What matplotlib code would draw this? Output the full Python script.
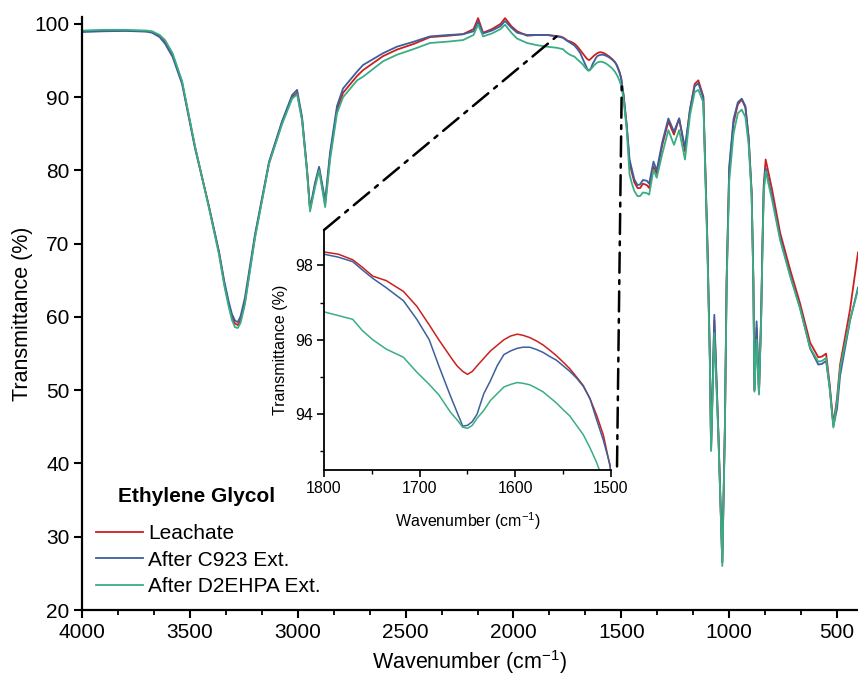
import matplotlib
matplotlib.use("Agg")
import matplotlib.pyplot as plt
from matplotlib.ticker import MultipleLocator
from matplotlib.patches import ConnectionPatch

plt.rcParams['font.family'] = ['Liberation Sans', 'DejaVu Sans']
plt.rcParams['mathtext.fontset'] = 'custom'
plt.rcParams['mathtext.rm'] = 'Liberation Sans'
plt.rcParams['mathtext.default'] = 'regular'

# ---------------- data ----------------
wavenumber = [
    # 4000-3245
    4000, 3900, 3800, 3700, 3675, 3640, 3615, 3580, 3536, 3476, 3411, 3365, 3340, 3320, 3305, 3291,
    3278, 3265, 3245,
    # 3198-1844
    3198, 3133, 3073, 3026, 3003, 2980, 2957, 2943, 2920, 2901, 2885, 2873, 2850, 2818, 2790, 2725,
    2697, 2605, 2540, 2460, 2387, 2300, 2234, 2185, 2164, 2141, 2100, 2060, 2039, 2010, 1983, 1937,
    1890, 1844,
    # 1800-1501
    1800, 1785, 1770, 1760, 1749, 1735, 1717, 1703, 1690, 1680, 1668, 1661, 1655, 1650, 1645, 1640,
    1633, 1626, 1619, 1612, 1605, 1598, 1592, 1585, 1578, 1571, 1564, 1557, 1550, 1543, 1536, 1529,
    1522, 1515, 1508, 1501,
    # 1490-403
    1490, 1475, 1462, 1452, 1440, 1425, 1413, 1400, 1382, 1371, 1351, 1336, 1310, 1282, 1256, 1232,
    1205, 1182, 1160, 1143, 1120, 1101, 1090, 1084, 1069, 1050, 1032, 1020, 1012, 1000, 980, 960,
    942, 925, 910, 896, 888, 883, 873, 862, 852, 846, 840, 831, 800, 764, 718, 672, 625, 587, 570,
    551, 535, 517, 500, 486, 440, 403]

leachate = [
    99.0, 99.1, 99.1, 99.0, 98.9, 98.4, 97.6, 95.8, 92.0, 83.2, 75.0, 68.8, 64.5, 61.8, 60.0, 59.1,
    58.9, 59.6, 62.0,
    71.0, 81.0, 86.5, 90.0, 90.6, 87.0, 80.0, 74.7, 78.0, 80.3, 77.5, 75.4, 82.0, 88.3, 90.6, 92.9,
    93.7, 95.6, 96.5, 97.3, 98.2, 98.4, 98.6, 99.3, 100.8, 98.8, 99.3, 100.0, 100.8, 99.7, 99.0, 98.4,
    98.5, 98.5,
    98.36, 98.3, 98.15, 97.95, 97.71, 97.59, 97.3, 96.9, 96.4, 96.0, 95.55, 95.3, 95.15, 95.07, 95.15, 95.3,
    95.5, 95.7, 95.85, 96.0, 96.1, 96.15, 96.12, 96.06, 95.97, 95.86, 95.72, 95.57, 95.4, 95.22, 95.0, 94.77,
    94.42, 93.97, 93.44, 92.6,
    90.3, 86.0, 81.0, 79.8, 78.4, 77.6, 77.6, 78.2, 78.0, 77.6, 80.5, 79.6, 83.5, 86.7, 84.9, 87.1,
    82.6, 88.3, 91.8, 92.3, 90.1, 70.0, 55.0, 42.0, 59.5, 44.0, 26.5, 45.0, 65.0, 80.0, 86.5, 89.0,
    89.7, 88.6, 84.5, 77.0, 65.0, 50.0, 58.5, 49.6, 60.0, 70.0, 78.0, 81.5, 77.2, 71.5, 66.5, 61.9, 56.5, 54.5, 54.6,
    55.0, 51.0, 45.3, 49.0, 53.5, 61.0, 68.8]

after_c923 = [
    98.9, 99.0, 99.05, 98.95, 98.8, 98.2, 97.3, 95.5, 91.8, 83.0, 75.0, 68.9, 64.8, 62.1, 60.4, 59.5,
    59.3, 60.1, 62.6,
    71.3, 81.2, 86.7, 90.3, 91.0, 87.3, 80.2, 74.8, 78.3, 80.5, 77.9, 75.9, 82.5, 88.8, 91.2, 93.5,
    94.4, 96.0, 96.9, 97.6, 98.3, 98.5, 98.6, 99.0, 100.3, 98.7, 99.1, 99.7, 100.4, 99.5, 98.8, 98.5,
    98.5, 98.5,
    98.3, 98.22, 98.1, 97.88, 97.65, 97.4, 97.05, 96.55, 96.0, 95.3, 94.5, 94.06, 93.68, 93.7, 93.8, 94.0,
    94.55, 94.9, 95.3, 95.6, 95.7, 95.77, 95.8, 95.8, 95.74, 95.66, 95.55, 95.45, 95.3, 95.15, 94.97, 94.75,
    94.42, 93.85, 93.3, 92.64,
    90.4, 86.2, 81.5, 80.3, 78.8, 78.0, 78.1, 78.7, 78.6, 78.2, 81.2, 80.0, 83.9, 87.1, 85.3, 87.1,
    83.1, 88.3, 91.5, 91.9, 89.9, 70.0, 55.0, 42.0, 60.3, 44.0, 26.5, 45.0, 65.0, 80.5, 87.0, 89.3,
    89.8, 88.8, 84.5, 77.0, 65.0, 50.0, 59.4, 49.6, 60.0, 69.5, 77.5, 80.3, 76.2, 70.8, 65.8, 61.3, 55.7, 53.5, 53.6,
    54.0, 50.5, 45.1, 47.5, 52.0, 59.5, 64.0]

after_d2ehpa = [
    99.1, 99.2, 99.2, 99.1, 99.0, 98.5, 97.8, 96.0, 92.2, 83.3, 74.8, 68.5, 64.2, 61.4, 59.6, 58.6,
    58.5, 59.2, 61.7,
    70.8, 80.9, 86.3, 89.8, 90.4, 86.8, 79.8, 74.4, 77.7, 80.0, 77.2, 75.0, 81.5, 87.8, 90.0, 92.3,
    92.8, 94.9, 95.8, 96.6, 97.4, 97.6, 97.8, 98.5, 99.9, 98.3, 98.7, 99.3, 99.9, 98.8, 98.0, 97.4,
    97.1, 96.9,
    96.75, 96.65, 96.55, 96.25, 96.0, 95.75, 95.53, 95.13, 94.8, 94.52, 94.06, 93.85, 93.65, 93.62, 93.7, 93.89,
    94.1, 94.37, 94.55, 94.73, 94.8, 94.85, 94.83, 94.79, 94.7, 94.6, 94.45, 94.3, 94.12, 93.95, 93.7, 93.45,
    93.1, 92.7, 92.2, 91.6,
    89.8, 85.5, 79.5, 78.3, 77.2, 76.5, 76.5, 77.0, 76.9, 76.7, 80.1, 79.0, 82.3, 85.5, 83.5, 85.5,
    81.5, 87.5, 90.7, 91.0, 89.3, 69.0, 54.0, 41.7, 57.8, 43.5, 26.0, 44.5, 64.0, 78.5, 85.0, 87.8,
    88.3, 87.3, 83.5, 76.5, 64.5, 49.8, 56.9, 49.4, 59.5, 69.0, 77.0, 79.9, 75.8, 70.5, 65.6, 61.2, 55.8, 53.9, 54.0,
    54.4, 50.5, 44.9, 48.5, 53.0, 59.6, 63.7]

series_labels = ["Leachate", "After C923 Ext.", "After D2EHPA Ext."]
series_colors = ["#cc1f1f", "#3d5f9c", "#3aae82"]
legend_title = "Ethylene Glycol"

main_xticks = [4000, 3500, 3000, 2500, 2000, 1500, 1000, 500]
main_yticks = [20, 30, 40, 50, 60, 70, 80, 90, 100]
inset_xticks = [1800, 1700, 1600, 1500]
inset_yticks = [94, 96, 98]

# ---------------- figure ----------------
W, H = 858, 676
fig = plt.figure(figsize=(W / 100, H / 100), dpi=100)

def fx(px):
    return px / W

def fy(py):
    return 1 - py / H

ax = fig.add_axes([fx(82), fy(610), fx(858) - fx(82), fy(17) - fy(610)])
series = [leachate, after_c923, after_d2ehpa]
for vals, lab, col in zip(series, series_labels, series_colors):
    ax.plot(wavenumber, vals, color=col, lw=1.3, label=lab)

ax.set_xlim(4000, 403)
ax.set_ylim(20, 100.95)
ax.set_xticks(main_xticks)
ax.set_yticks(main_yticks)
ax.xaxis.set_minor_locator(MultipleLocator(500 / 3))
for s in ["top", "right"]:
    ax.spines[s].set_visible(False)
for s in ["left", "bottom"]:
    ax.spines[s].set_linewidth(1.6)
ax.tick_params(which="major", direction="out", length=6, width=1.5, labelsize=15, pad=3)
ax.tick_params(which="minor", direction="out", length=3.5, width=1.3)
ax.set_xlabel("Wavenumber (cm$^{-1}$)", fontsize=15.5, labelpad=5)
ax.set_ylabel("Transmittance (%)", fontsize=15.5, labelpad=1)

# legend
fig.text(fx(118), fy(497), legend_title, fontsize=15, fontweight="bold", ha="left", va="center")
leg = ax.legend(loc="upper left", bbox_to_anchor=(fx(96), fy(524)), bbox_transform=fig.transFigure,
                frameon=False, fontsize=15, handlelength=2.25, handletextpad=0.25,
                labelspacing=0.37, borderpad=0, borderaxespad=0)

# inset
ins = fig.add_axes([fx(324), fy(470), fx(611) - fx(324), fy(230) - fy(470)])
for vals, col in zip(series, series_colors):
    ins.plot(wavenumber, vals, color=col, lw=1.1)
ins.set_xlim(1800, 1500)
ins.set_ylim(92.5, 98.95)
ins.set_xticks(inset_xticks)
ins.set_yticks(inset_yticks)
ins.xaxis.set_minor_locator(MultipleLocator(50))
ins.yaxis.set_minor_locator(MultipleLocator(1))
for s in ["top", "right"]:
    ins.spines[s].set_visible(False)
for s in ["left", "bottom"]:
    ins.spines[s].set_linewidth(1.3)
ins.tick_params(which="major", direction="out", length=5, width=1.2, labelsize=11.5, pad=3)
ins.tick_params(which="minor", direction="out", length=3, width=1.0)
ins.set_xlabel("Wavenumber (cm$^{-1}$)", fontsize=11.5, labelpad=10)
ins.set_ylabel("Transmittance (%)", fontsize=11.5, labelpad=5)

# connector lines
dash = (0, (8, 3, 1.5, 3))
c1 = ConnectionPatch(xyA=(0, 1), coordsA=ins.transAxes, xyB=(1800, 98.3), coordsB=ax.transData,
                     color="black", lw=1.8, linestyle=dash)
fig.add_artist(c1)
c2 = ConnectionPatch(xyA=(1520, 39.6), coordsA=ax.transData, xyB=(1498, 92.0), coordsB=ax.transData,
                     color="black", lw=1.8, linestyle=dash)
fig.add_artist(c2)

fig.savefig("out.png", dpi=100)
